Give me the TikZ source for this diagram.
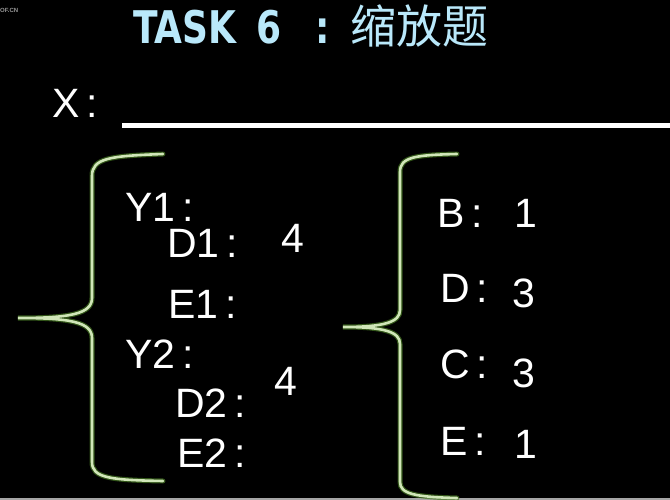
\documentclass[tikz,border=0pt]{standalone}
\usepackage{fontspec}
\setmainfont{Liberation Sans}
\newfontfamily\titlefont[FakeStretch=0.8]{DejaVu Sans}
\newfontfamily\cjk{Noto Sans CJK SC}
\definecolor{titleblue}{RGB}{185,232,250}
\definecolor{bracegreen}{RGB}{208,230,184}
\definecolor{braceglow}{RGB}{70,120,35}
\tikzset{
  lbl/.style={text=white, font=\fontsize{41}{41}\selectfont, anchor=base west, inner sep=0pt},
  bracelow/.style={draw=braceglow, line width=5pt, line cap=round, opacity=0.7},
  bracetop/.style={draw=bracegreen, line width=2.6pt, line cap=round}
}
\begin{document}
\begin{tikzpicture}[x=1pt,y=-1pt]
\fill[black] (0,0) rectangle (670,500);
\useasboundingbox (0,0) rectangle (670,500);
\fill[gray!70] (0,497.5) rectangle (670,500);
\node[anchor=base west, inner sep=0pt, text=gray!80, font=\bfseries\fontsize{6}{6}\selectfont] (logo) at (0,13) {OF.CN};

\node[anchor=base west, inner sep=0pt, text=titleblue] (title) at (133,44)
  {\titlefont\bfseries\fontsize{45}{45}\selectfont TASK\hspace{20pt}6\hspace{34pt}:};
\node[anchor=base west, inner sep=0pt, text=titleblue, font=\cjk\fontsize{46}{46}\selectfont] (titlecn) at (350,44) {缩放题};

\node[lbl] (x) at (52,118) {X\,:};
\draw[white, line width=5pt] (122,126) -- (670,126);

% left brace
\foreach \st in {bracelow,bracetop}{
  \draw[\st] (163,154) .. controls (110,156) and (92,158) .. (92,176) -- (92,298)
    .. controls (92,314) and (70,318) .. (18,318)
    .. controls (70,318) and (92,322) .. (92,338) -- (92,462)
    .. controls (92,478) and (110,480) .. (163,481);
}
\node[lbl] (y1) at (125,222) {Y1\,:};
\node[lbl] (d1) at (167,258) {D1\,:};
\node[lbl] (num1) at (281,252) {4};
\node[lbl] (e1) at (168,318) {E1\,:};
\node[lbl] (y2) at (125,368) {Y2\,:};
\node[lbl] (num2) at (274,395) {4};
\node[lbl] (d2) at (175,417) {D2\,:};
\node[lbl] (e2) at (177,467) {E2\,:};

% right brace
\foreach \st in {bracelow,bracetop}{
  \draw[\st] (457,154) .. controls (415,155) and (400,157) .. (400,172) -- (400,310)
    .. controls (400,322) and (385,327) .. (343,327)
    .. controls (385,327) and (400,332) .. (400,344) -- (400,482)
    .. controls (400,494) and (415,497) .. (457,498);
}
\node[lbl] (b) at (437,228) {B\,:};
\node[lbl] (nb) at (514,228) {1};
\node[lbl] (d) at (440,302) {D\,:};
\node[lbl] (nd) at (512,307) {3};
\node[lbl] (c) at (440,378) {C\,:};
\node[lbl] (nc) at (512,387) {3};
\node[lbl] (e) at (440,455) {E\,:};
\node[lbl] (ne) at (514,458) {1};
\end{tikzpicture}
\end{document}
